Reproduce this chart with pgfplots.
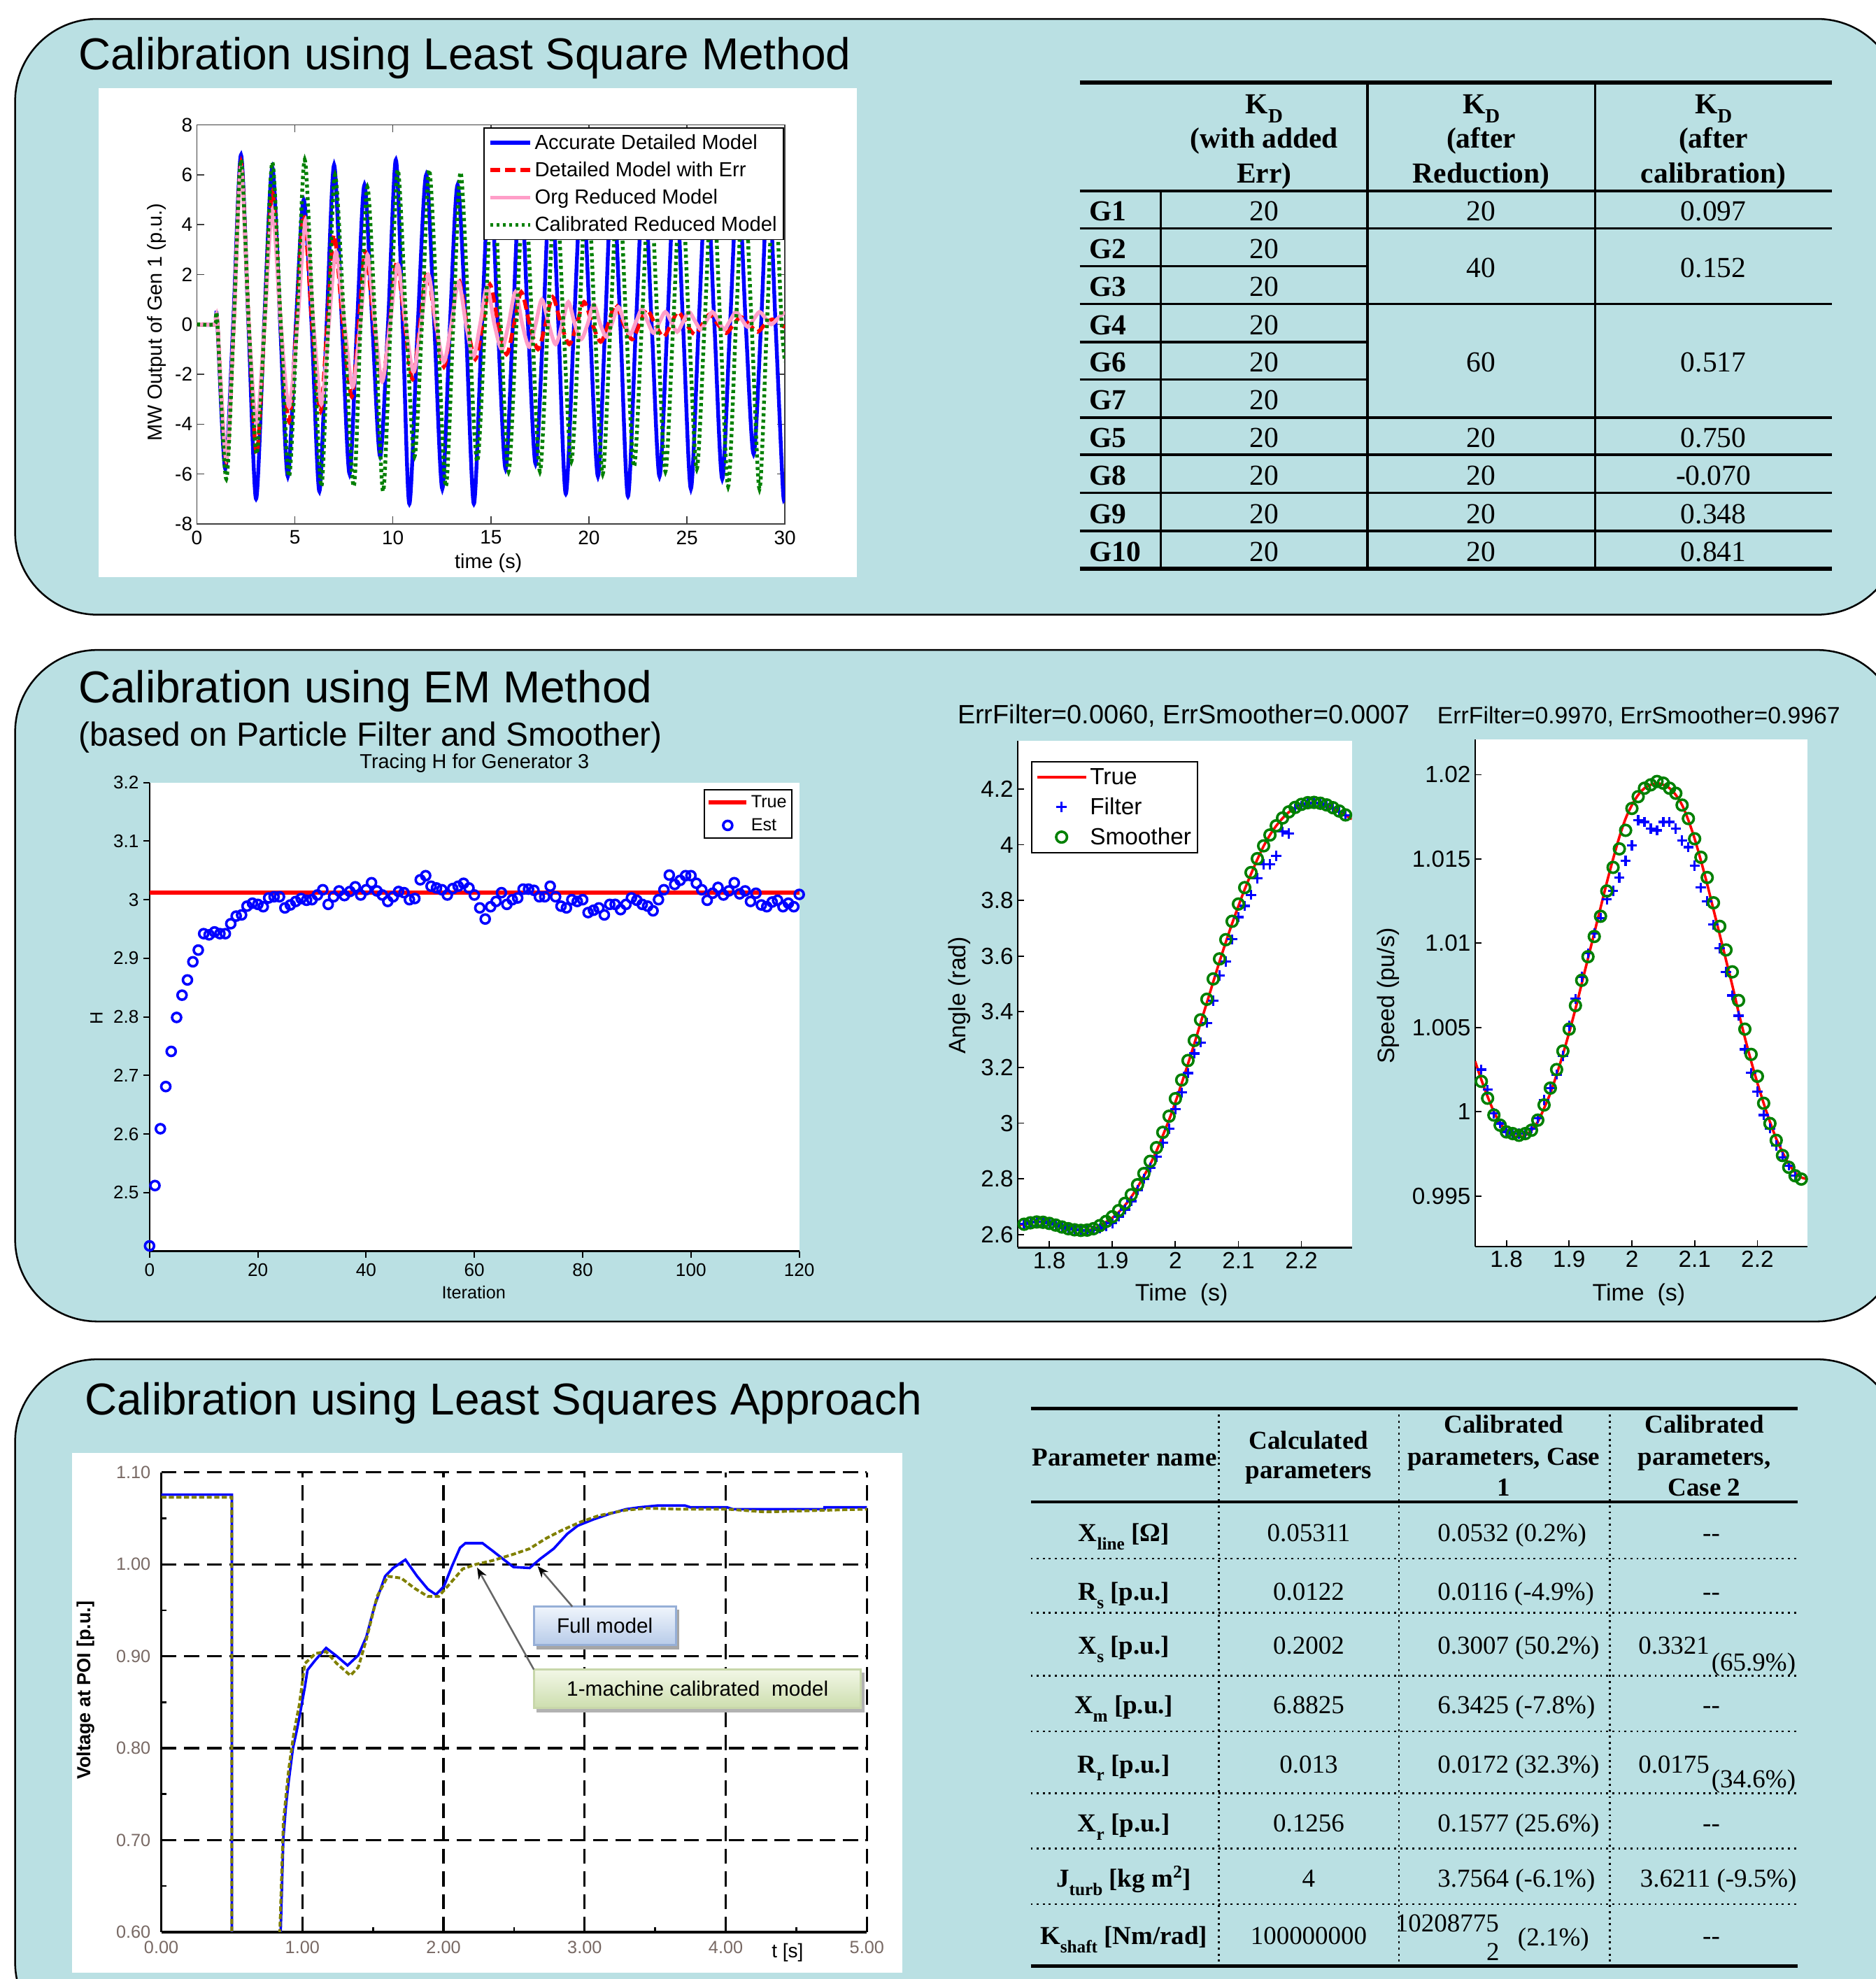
\documentclass[border=0pt]{standalone}
\usepackage{fontspec}
\setmainfont{Liberation Sans}
\newfontfamily\tnr{Liberation Serif}
\usepackage{pgfplots}
\pgfplotsset{compat=1.18}
\usetikzlibrary{arrows.meta}
\newcommand\fs[1]{\fontsize{#1}{#1}\selectfont}
\newcommand\subs[2]{\raisebox{-0.32em}{\fontsize{#1}{#1}\selectfont #2}}
\definecolor{panelc}{RGB}{186,224,227}
\definecolor{mgreen}{RGB}{0,128,0}
\definecolor{mpink}{RGB}{255,158,200}
\definecolor{olivec}{RGB}{128,128,0}
\definecolor{ticklab}{RGB}{120,105,100}
\definecolor{fmtop}{RGB}{240,245,252}
\definecolor{fmbot}{RGB}{183,203,233}
\definecolor{fmdraw}{RGB}{150,175,215}
\definecolor{cmtop}{RGB}{242,247,230}
\definecolor{cmbot}{RGB}{205,222,175}
\definecolor{cmdraw}{RGB}{200,215,170}
\begin{document}
\begin{tikzpicture}
\path[use as bounding box] (0pt,0pt) rectangle (1486pt,-1568pt);
\begin{scope}[x=1pt,y=-1pt]
\fill[white] (0,0) rectangle (1486,1568);
\draw[line width=1.4pt,fill=panelc,rounded corners=65pt] (12,15) rectangle (1505,487);
\draw[line width=1.4pt,fill=panelc,rounded corners=65pt] (12,515) rectangle (1505,1047);
\draw[line width=1.4pt,fill=panelc,rounded corners=65pt] (12,1077) rectangle (1505,1620);
\node[anchor=base west,inner sep=0pt,font=\fs{35.4}] at (62,55) {Calibration using Least Square Method};
\node[anchor=base west,inner sep=0pt,font=\fs{35.4}] at (62,557) {Calibration using EM Method};
\node[anchor=base west,inner sep=0pt,font=\fs{26.5}] at (62,591) {(based on Particle Filter and Smoother)};
\node[anchor=base west,inner sep=0pt,font=\fs{35.4}] at (67,1121) {Calibration using Least Squares Approach};
\fill[white] (78,70) rectangle (679,457);
\fill[white] (57,1151) rectangle (715,1563);
\node[anchor=base,inner sep=0pt,font=\fs{16}] at (376,609) {Tracing H for Generator 3};
\node[anchor=base,inner sep=0pt,font=\fs{21}] at (938,573.5) {ErrFilter=0.0060, ErrSmoother=0.0007};
\node[anchor=base,inner sep=0pt,font=\fs{18.7}] at (1298.5,573.3) {ErrFilter=0.9970, ErrSmoother=0.9967};
% ---------- table 1
\begin{scope}[font={\tnr\fs{23}}]
\draw[line width=3pt] (855.5,65.5) -- (1451.6,65.5);
\draw[line width=2pt] (855.5,151.3) -- (1451.6,151.3);
\foreach \yy in {180.9,240.9,330.8,360.4,390.5,420.6} \draw[line width=2pt] (855.5,\yy) -- (1451.6,\yy);
\foreach \yy in {211.0,271.0,300.6} \draw[line width=2pt] (855.5,\yy) -- (1083.6,\yy);
\draw[line width=3pt] (855.5,450.5) -- (1451.6,450.5);
\draw[line width=2pt] (919.8,151.3) -- (919.8,450.5);
\draw[line width=2pt] (1083.6,65.5) -- (1083.6,450.5);
\draw[line width=2pt] (1263.9,65.5) -- (1263.9,450.5);
\node[anchor=base,inner sep=0pt] at (1001.8,89.8) {\bfseries K\subs{16}{D}};
\node[anchor=base,inner sep=0pt] at (1173.7,89.8) {\bfseries K\subs{16}{D}};
\node[anchor=base,inner sep=0pt] at (1357.7,89.8) {\bfseries K\subs{16}{D}};
\node[anchor=base,inner sep=0pt] at (1001.8,117.4) {\bfseries (with added};
\node[anchor=base,inner sep=0pt] at (1173.7,117.4) {\bfseries (after};
\node[anchor=base,inner sep=0pt] at (1357.7,117.4) {\bfseries (after};
\node[anchor=base,inner sep=0pt] at (1001.8,145) {\bfseries Err)};
\node[anchor=base,inner sep=0pt] at (1173.7,145) {\bfseries Reduction)};
\node[anchor=base,inner sep=0pt] at (1357.7,145) {\bfseries calibration)};
\foreach \g/\yy in {G1/175,G2/205,G3/235,G4/265,G6/294.8,G7/324.7,G5/354.6,G8/384.5,G9/414.6,G10/444.6}{
  \node[anchor=base west,inner sep=0pt] at (863,\yy) {\bfseries \g};
  \node[anchor=base,inner sep=0pt] at (1001.8,\yy) {20};
}
\foreach \v/\yy in {20/175,40/220,60/294.8,20/354.6,20/384.5,20/414.6,20/444.6}
  \node[anchor=base,inner sep=0pt] at (1173.7,\yy) {\v};
\foreach \v/\yy in {0.097/175,0.152/220,0.517/294.8,0.750/354.6,-0.070/384.5,0.348/414.6,0.841/444.6}
  \node[anchor=base,inner sep=0pt] at (1357.7,\yy) {\v};
\end{scope}
% ---------- table 2
\begin{scope}[font={\tnr\fs{20.5}}]
\draw[line width=2.5pt] (816.7,1115.9) -- (1424.7,1115.9);
\draw[line width=2.5pt] (816.7,1190) -- (1424.7,1190);
\draw[line width=2.5pt] (816.7,1557.8) -- (1424.7,1557.8);
\foreach \yy in {1234.9,1277.9,1327.8,1371.8,1420.6,1464.5,1508.7}
  \draw[line width=1.6pt,dash pattern=on 1.6pt off 3.2pt] (816.7,\yy) -- (1424.7,\yy);
\foreach \xx in {966,1108.5,1275.4}
  \draw[line width=1.6pt,dash pattern=on 1.6pt off 3.2pt] (\xx,1115.9) -- (\xx,1557.8);
\node[anchor=base,inner sep=0pt] at (891,1161.3) {\bfseries Parameter name};
\node[anchor=base,inner sep=0pt] at (1037,1148.1) {\bfseries Calculated};
\node[anchor=base,inner sep=0pt] at (1037,1171.5) {\bfseries parameters};
\node[anchor=base,inner sep=0pt] at (1191.5,1135.4) {\bfseries Calibrated};
\node[anchor=base,inner sep=0pt] at (1191.5,1160.7) {\bfseries parameters, Case};
\node[anchor=base,inner sep=0pt] at (1191.5,1185.3) {\bfseries 1};
\node[anchor=base,inner sep=0pt] at (1350.5,1135.4) {\bfseries Calibrated};
\node[anchor=base,inner sep=0pt] at (1350.5,1160.7) {\bfseries parameters,};
\node[anchor=base,inner sep=0pt] at (1350.5,1185.3) {\bfseries Case 2};
\node[anchor=base,inner sep=0pt] at (890.5,1221.3) {\bfseries X\subs{14}{line} [Ω]};
\node[anchor=base,inner sep=0pt] at (890.5,1268) {\bfseries R\subs{14}{s} [p.u.]};
\node[anchor=base,inner sep=0pt] at (890.5,1310.7) {\bfseries X\subs{14}{s} [p.u.]};
\node[anchor=base,inner sep=0pt] at (890.5,1357.6) {\bfseries X\subs{14}{m} [p.u.]};
\node[anchor=base,inner sep=0pt] at (890.5,1404.5) {\bfseries R\subs{14}{r} [p.u.]};
\node[anchor=base,inner sep=0pt] at (890.5,1451.4) {\bfseries X\subs{14}{r} [p.u.]};
\node[anchor=base,inner sep=0pt] at (890.5,1495.3) {\bfseries J\subs{14}{turb} [kg m\textsuperscript{2}]};
\node[anchor=base,inner sep=0pt] at (890.5,1540.7) {\bfseries K\subs{14}{shaft} [Nm/rad]};
\foreach \v/\yy in {0.05311/1221.3,0.0122/1268,0.2002/1310.7,6.8825/1357.6,0.013/1404.5,0.1256/1451.4,4/1495.3,100000000/1540.7}
  \node[anchor=base,inner sep=0pt] at (1037,\yy) {\v};
\node[anchor=base west,inner sep=0pt] at (1139,1221.3) {0.0532 (0.2\%)};
\node[anchor=base west,inner sep=0pt] at (1139,1268) {0.0116 (-4.9\%)};
\node[anchor=base west,inner sep=0pt] at (1139,1310.7) {0.3007 (50.2\%)};
\node[anchor=base west,inner sep=0pt] at (1139,1357.6) {6.3425 (-7.8\%)};
\node[anchor=base west,inner sep=0pt] at (1139,1404.5) {0.0172 (32.3\%)};
\node[anchor=base west,inner sep=0pt] at (1139,1451.4) {0.1577 (25.6\%)};
\node[anchor=base west,inner sep=0pt] at (1139,1495.3) {3.7564 (-6.1\%)};
\node[anchor=base west,inner sep=0pt] at (1105.5,1530.5) {10208775};
\node[anchor=base,inner sep=0pt] at (1183,1553.4) {2};
\node[anchor=base west,inner sep=0pt] at (1202.5,1541.9) {(2.1\%)};
\foreach \yy in {1221.3,1268,1357.6,1451.4,1540.7}
  \node[anchor=base,inner sep=0pt] at (1356,\yy) {-{}-};
\node[anchor=base west,inner sep=0pt] at (1298,1310.7) {0.3321};
\node[anchor=base west,inner sep=0pt] at (1356,1323.9) {(65.9\%)};
\node[anchor=base west,inner sep=0pt] at (1298,1404.5) {0.0175};
\node[anchor=base west,inner sep=0pt] at (1356,1416.2) {(34.6\%)};
\node[anchor=base west,inner sep=0pt] at (1299.5,1495.3) {3.6211 (-9.5\%)};
\end{scope}
\end{scope}

% ================= axis 1: MW output
\begin{axis}[at={(156pt,-415pt)},anchor=south west,scale only axis,
  width=466pt,height=316pt,xmin=0,xmax=30,ymin=-8,ymax=8,
  xtick={0,5,10,15,20,25,30},xticklabels={0,5,10,15,20,25,30},
  ytick={-8,-6,-4,-2,0,2,4,6,8},yticklabels={-8,-6,-4,-2,0,2,4,6,8},
  tick align=inside,major tick length=6pt,
  tick style={black!75,line width=0.8pt},
  axis line style={black!75,line width=0.9pt},
  ticklabel style={font=\fs{15.5}},
  xticklabel style={yshift=-2pt},
  xlabel={time (s)},ylabel={MW Output of Gen 1 (p.u.)},
  xlabel style={font=\fs{16},at={(0.4957,-0.098)},anchor=center},
  ylabel style={font=\fs{16},at={(-0.0687,0.505)},anchor=center},
  legend style={at={(0.998,0.994)},anchor=north east,font=\fs{16.2},draw=black,line width=1pt,fill=white,inner xsep=3pt,inner ysep=3pt,row sep=4.5pt},
  legend cell align=left,
  legend image code/.code={\draw[#1] (0pt,0pt) -- (32pt,0pt);},
]
\addplot[blue,line width=3pt,smooth] coordinates {(0,0) (0.9,0) (0.97,0.3) (1.05,0) (1.45,-5.8) (1.85,0) (2.25,6.8) (2.63,0) (3.02,-7.0) (3.43,0) (3.85,6.3) (4.25,0) (4.64,-6.1) (5.05,0) (5.45,5.0) (5.85,0) (6.25,-6.7) (6.62,0) (7.0,6.4) (7.4,0) (7.79,-6.0) (8.17,0) (8.55,5.6) (8.95,0) (9.35,-5.3) (9.75,0) (10.15,6.6) (10.5,0) (10.84,-7.2) (11.27,0) (11.7,6.0) (12.11,0) (12.52,-6.6) (12.91,0) (13.3,5.6) (13.72,0) (14.13,-7.2) (14.54,0) (14.95,6.2) (15.35,0) (15.75,-5.8) (16.12,0) (16.5,6.0) (16.89,0) (17.28,-5.6) (17.67,0) (18.05,6.2) (18.44,0) (18.82,-6.8) (19.24,0) (19.65,6.0) (20.05,0) (20.46,-6.1) (20.83,0) (21.2,6.2) (21.6,0) (21.99,-6.9) (22.4,0) (22.8,6.0) (23.2,0) (23.6,-6.1) (24.0,0) (24.4,6.2) (24.8,0) (25.2,-6.6) (25.6,0) (26.0,6.0) (26.4,0) (26.8,-6.2) (27.2,0) (27.6,6.0) (28.0,0) (28.4,-5.2) (28.78,0) (29.15,6.0) (29.52,0) (29.9,-6.7) (30,-6.5)};
\addlegendentry{Accurate Detailed Model}
\addplot[red,line width=3pt,dash pattern=on 8pt off 4pt,smooth] coordinates {(0,0) (0.9,0) (0.97,0.2) (1.05,0) (1.5,-5.5) (1.88,0) (2.25,6.5) (2.65,0) (3.05,-5.2) (3.45,0) (3.85,5.3) (4.28,0) (4.7,-3.9) (5.08,0) (5.45,4.4) (5.88,0) (6.3,-3.5) (6.65,0) (7.0,3.6) (7.45,0) (7.9,-2.9) (8.25,0) (8.6,2.9) (9.03,0) (9.45,-2.3) (9.83,0) (10.2,2.5) (10.6,0) (11.0,-2.2) (11.38,0) (11.75,2.1) (12.18,0) (12.6,-1.7) (12.98,0) (13.35,1.8) (13.78,0) (14.2,-1.4) (14.58,0) (14.95,1.6) (15.38,0) (15.8,-1.2) (16.18,0) (16.55,1.3) (16.98,0) (17.4,-1.0) (17.78,0) (18.15,1.1) (18.58,0) (19.0,-0.8) (19.38,0) (19.75,0.9) (20.18,0) (20.6,-0.7) (20.98,0) (21.35,0.8) (21.78,0) (22.2,-0.6) (22.58,0) (22.95,0.6) (23.38,0) (23.8,-0.5) (24.18,0) (24.55,0.5) (24.98,0) (25.4,-0.4) (25.78,0) (26.15,0.4) (26.58,0) (27.0,-0.35) (27.38,0) (27.75,0.3) (28.18,0) (28.6,-0.3) (28.98,0) (29.35,0.2) (29.7,0) (30,-0.1)};
\addlegendentry{Detailed Model with Err}
\addplot[mpink,line width=3pt,smooth] coordinates {(0,0) (0.9,0) (0.97,0.2) (1.05,0) (1.5,-5.4) (1.88,0) (2.25,6.3) (2.65,0) (3.05,-4.0) (3.45,0) (3.85,4.6) (4.28,0) (4.7,-3.3) (5.13,0) (5.55,4.2) (5.95,0) (6.35,-3.2) (6.73,0) (7.1,2.9) (7.53,0) (7.95,-2.5) (8.33,0) (8.7,2.8) (9.08,0) (9.45,-2.3) (9.85,0) (10.25,2.4) (10.65,0) (11.05,-1.9) (11.43,0) (11.8,2.0) (12.2,0) (12.6,-1.5) (12.98,0) (13.35,1.7) (13.73,0) (14.1,-1.3) (14.45,0) (14.8,1.5) (15.18,0) (15.55,-1.0) (15.9,0) (16.25,1.3) (16.6,0) (16.95,-0.9) (17.28,0) (17.6,1.0) (17.95,0) (18.3,-0.8) (18.63,0) (18.95,0.9) (19.28,0) (19.6,-0.6) (19.93,0) (20.25,0.8) (20.58,0) (20.9,-0.5) (21.2,0.1) (21.5,0.7) (21.8,0.1) (22.1,-0.4) (22.4,0.1) (22.7,0.6) (23.0,0.1) (23.3,-0.35) (23.6,0.1) (23.9,0.5) (24.2,0.1) (24.5,-0.3) (24.8,0.1) (25.1,0.5) (25.4,0.15) (25.7,-0.2) (26.0,0.15) (26.3,0.5) (26.6,0.15) (26.9,-0.2) (27.2,0.15) (27.5,0.5) (27.8,0.2) (28.1,-0.1) (28.4,0.2) (28.7,0.5) (29.0,0.25) (29.3,0.0) (29.65,0.25) (30,0.5)};
\addlegendentry{Org Reduced Model}
\addplot[mgreen,line width=3pt,dash pattern=on 2.5pt off 2.5pt,smooth] coordinates {(0,0) (0.9,0) (0.97,0.3) (1.05,0) (1.5,-6.2) (1.88,0) (2.25,6.6) (2.65,0) (3.05,-5.2) (3.45,0) (3.85,6.5) (4.28,0) (4.7,-6.1) (5.1,0) (5.5,6.6) (5.93,0) (6.35,-6.5) (6.7,0) (7.05,6.0) (7.52,0) (8.0,-6.5) (8.35,0) (8.7,5.5) (9.1,0) (9.5,-6.7) (9.88,0) (10.25,6.2) (10.68,0) (11.1,-5.3) (11.48,0) (11.85,6.2) (12.28,0) (12.7,-6.5) (13.08,0) (13.45,6.1) (13.88,0) (14.3,-5.5) (14.7,0) (15.1,6.0) (15.5,0) (15.9,-5.9) (16.3,0) (16.7,6.0) (17.1,0) (17.5,-5.9) (17.9,0) (18.3,6.0) (18.7,0) (19.1,-5.5) (19.5,0) (19.9,6.0) (20.3,0) (20.7,-6.0) (21.1,0) (21.5,6.0) (21.9,0) (22.3,-5.7) (22.7,0) (23.1,6.0) (23.5,0) (23.9,-5.9) (24.3,0) (24.7,6.0) (25.1,0) (25.5,-5.8) (25.9,0) (26.3,6.0) (26.7,0) (27.1,-6.5) (27.5,0) (27.9,6.0) (28.3,0) (28.7,-6.6) (29.08,0) (29.45,6.0) (29.83,0) (30,-1.5)};
\addlegendentry{Calibrated Reduced Model}
\end{axis}

% ================= axis 2: Tracing H
\begin{axis}[at={(118.5pt,-991.3pt)},anchor=south west,scale only axis,
  width=514.8pt,height=371.3pt,xmin=0,xmax=120,ymin=2.4,ymax=3.2,clip=false,
  xtick={0,20,40,60,80,100,120},xticklabels={0,20,40,60,80,100,120},
  ytick={2.5,2.6,2.7,2.8,2.9,3,3.1,3.2},yticklabels={2.5,2.6,2.7,2.8,2.9,3,3.1,3.2},
  axis x line*=bottom,axis y line*=left,tick align=outside,major tick length=5pt,
  axis line style={line width=1.3pt},tick style={black,line width=1.2pt},
  axis background/.style={fill=white},
  ticklabel style={font=\fs{14.5}},
  xticklabel style={yshift=-1pt},
  xlabel={Iteration},ylabel={H},
  xlabel style={font=\fs{14},at={(0.499,-0.088)},anchor=center},
  ylabel style={font=\fs{14},at={(-0.0816,0.498)},anchor=center},
  legend style={at={(0.990,0.9865)},anchor=north east,font=\fs{14},draw=black,line width=1.5pt,fill=white,inner xsep=2pt,inner ysep=2.5pt,row sep=3pt},
  legend cell align=left,
  legend image code/.code={\draw[mark repeat=2,mark phase=2,#1] plot coordinates {(0pt,0pt) (15pt,0pt) (30pt,0pt)};},
]
\addplot[red,line width=3pt] coordinates {(0,3.012) (120,3.012)};
\addlegendentry{True}
\addplot[only marks,mark=o,blue,mark size=3.6pt,mark options={line width=2pt}] coordinates {(0,2.409)(1,2.512)(2,2.609)(3,2.681)(4,2.741)(5,2.799)(6,2.837)(7,2.863)(8,2.894)(9,2.914)(10,2.942)(11,2.940)(12,2.945)(13,2.942)(14,2.942)(15,2.959)(16,2.972)(17,2.974)(18,2.989)(19,2.994)(20,2.992)(21,2.988)(22,3.003)(23,3.005)(24,3.005)(25,2.986)(26,2.991)(27,2.997)(28,3.002)(29,2.999)(30,3.000)(31,3.008)(32,3.017)(33,2.992)(34,3.005)(35,3.015)(36,3.007)(37,3.014)(38,3.022)(39,3.008)(40,3.017)(41,3.029)(42,3.015)(43,3.008)(44,2.997)(45,3.005)(46,3.014)(47,3.012)(48,3.000)(49,3.002)(50,3.034)(51,3.041)(52,3.023)(53,3.020)(54,3.017)(55,3.008)(56,3.019)(57,3.023)(58,3.028)(59,3.020)(60,3.008)(61,2.986)(62,2.967)(63,2.988)(64,2.997)(65,3.012)(66,2.992)(67,3.000)(68,3.003)(69,3.018)(70,3.018)(71,3.016)(72,3.005)(73,3.005)(74,3.023)(75,3.005)(76,2.989)(77,2.986)(78,3.000)(79,2.997)(80,3.000)(81,2.978)(82,2.982)(83,2.986)(84,2.974)(85,2.992)(86,2.992)(87,2.983)(88,2.992)(89,3.003)(90,2.999)(91,2.992)(92,2.989)(93,2.981)(94,3.000)(95,3.017)(96,3.042)(97,3.026)(98,3.033)(99,3.041)(100,3.041)(101,3.028)(102,3.017)(103,2.999)(104,3.011)(105,3.021)(106,3.008)(107,3.015)(108,3.029)(109,3.010)(110,3.015)(111,2.997)(112,3.011)(113,2.991)(114,2.988)(115,2.996)(116,2.999)(117,2.988)(118,2.994)(119,2.988)(120,3.009)};
\addlegendentry{Est}
\end{axis}

% ================= axis 3: Angle
\begin{axis}[at={(806.5pt,-988.5pt)},anchor=south west,scale only axis,
  width=264.7pt,height=401.5pt,xmin=1.75,xmax=2.28,ymin=2.553,ymax=4.373,
  xtick={1.8,1.9,2,2.1,2.2},xticklabels={1.8,1.9,2,2.1,2.2},
  ytick={2.6,2.8,3,3.2,3.4,3.6,3.8,4,4.2},yticklabels={2.6,2.8,3,3.2,3.4,3.6,3.8,4,4.2},
  axis x line*=bottom,axis y line*=left,tick align=inside,major tick length=5pt,
  axis line style={line width=1.2pt},tick style={black,line width=1pt},
  axis background/.style={fill=white},
  ticklabel style={font=\fs{18.5}},
  xlabel={Time\ \ (s)},ylabel={Angle (rad)},
  xlabel style={font=\fs{18.8},at={(0.490,-0.0934)},anchor=center},
  ylabel style={font=\fs{18.8},at={(-0.174,0.498)},anchor=center},
  legend style={at={(0.04,0.96)},anchor=north west,font=\fs{18.5},draw=black,line width=1.2pt,fill=white,inner xsep=3pt,inner ysep=3pt,row sep=5pt},
  legend cell align=left,
  legend image code/.code={\draw[mark repeat=2,mark phase=2,#1] plot coordinates {(0pt,0pt) (19.5pt,0pt) (39pt,0pt)};},
]
\addplot[red,line width=2pt,smooth] coordinates {(1.75,2.632)(1.76,2.638)(1.77,2.643)(1.78,2.646)(1.79,2.645)(1.80,2.641)(1.81,2.635)(1.82,2.628)(1.83,2.622)(1.84,2.618)(1.85,2.615)(1.86,2.615)(1.87,2.620)(1.88,2.630)(1.89,2.645)(1.90,2.660)(1.91,2.680)(1.92,2.705)(1.93,2.735)(1.94,2.770)(1.95,2.810)(1.96,2.852)(1.97,2.900)(1.98,2.955)(1.99,3.012)(2.00,3.075)(2.01,3.143)(2.02,3.213)(2.03,3.285)(2.04,3.360)(2.05,3.433)(2.06,3.507)(2.07,3.580)(2.08,3.650)(2.09,3.717)(2.10,3.780)(2.11,3.840)(2.12,3.895)(2.13,3.947)(2.14,3.995)(2.15,4.035)(2.16,4.068)(2.17,4.095)(2.18,4.117)(2.19,4.133)(2.20,4.144)(2.21,4.150)(2.22,4.151)(2.23,4.148)(2.24,4.142)(2.25,4.132)(2.26,4.120)(2.27,4.106)(2.28,4.092)};
\addlegendentry{True}
\addplot[only marks,mark=+,blue,mark size=4pt,mark options={line width=1.8pt}] coordinates {(1.76,2.638)(1.77,2.643)(1.78,2.646)(1.79,2.645)(1.80,2.641)(1.81,2.635)(1.82,2.628)(1.83,2.622)(1.84,2.618)(1.85,2.615)(1.86,2.613)(1.87,2.615)(1.88,2.622)(1.89,2.630)(1.90,2.640)(1.91,2.665)(1.92,2.690)(1.93,2.720)(1.94,2.760)(1.95,2.800)(1.96,2.840)(1.97,2.880)(1.98,2.930)(1.99,2.980)(2.00,3.050)(2.01,3.110)(2.02,3.180)(2.03,3.250)(2.04,3.290)(2.05,3.360)(2.06,3.440)(2.07,3.530)(2.08,3.580)(2.09,3.660)(2.10,3.740)(2.11,3.780)(2.12,3.820)(2.13,3.880)(2.14,3.930)(2.15,3.930)(2.16,3.960)(2.17,4.047)(2.18,4.040)(2.19,4.130)(2.20,4.140)(2.21,4.148)(2.22,4.150)(2.23,4.148)(2.24,4.140)(2.25,4.130)(2.26,4.118)(2.27,4.105)};
\addlegendentry{Filter}
\addplot[only marks,mark=o,mgreen,mark size=4.3pt,mark options={line width=2pt}] coordinates {(1.76,2.637)(1.77,2.642)(1.78,2.645)(1.79,2.644)(1.80,2.640)(1.81,2.634)(1.82,2.627)(1.83,2.621)(1.84,2.617)(1.85,2.615)(1.86,2.616)(1.87,2.621)(1.88,2.632)(1.89,2.647)(1.90,2.664)(1.91,2.686)(1.92,2.712)(1.93,2.743)(1.94,2.779)(1.95,2.819)(1.96,2.863)(1.97,2.912)(1.98,2.967)(1.99,3.025)(2.00,3.088)(2.01,3.155)(2.02,3.225)(2.03,3.297)(2.04,3.371)(2.05,3.445)(2.06,3.518)(2.07,3.590)(2.08,3.659)(2.09,3.725)(2.10,3.787)(2.11,3.846)(2.12,3.900)(2.13,3.950)(2.14,3.996)(2.15,4.035)(2.16,4.068)(2.17,4.096)(2.18,4.118)(2.19,4.134)(2.20,4.145)(2.21,4.151)(2.22,4.152)(2.23,4.149)(2.24,4.143)(2.25,4.133)(2.26,4.121)(2.27,4.107)};
\addlegendentry{Smoother}
\end{axis}

% ================= axis 4: Speed
\begin{axis}[at={(1168.8pt,-987.6pt)},anchor=south west,scale only axis,
  width=263.5pt,height=401.8pt,xmin=1.75,xmax=2.28,ymin=0.992,ymax=1.0221,
  xtick={1.8,1.9,2,2.1,2.2},xticklabels={1.8,1.9,2,2.1,2.2},
  ytick={0.995,1,1.005,1.01,1.015,1.02},yticklabels={0.995,1,1.005,1.01,1.015,1.02},
  axis x line*=bottom,axis y line*=left,tick align=inside,major tick length=5pt,
  axis line style={line width=1.2pt},tick style={black,line width=1pt},
  axis background/.style={fill=white},
  ticklabel style={font=\fs{18.5}},
  xlabel={Time\ \ (s)},ylabel={Speed (pu/s)},
  xlabel style={font=\fs{18.8},at={(0.4926,-0.0956)},anchor=center},
  ylabel style={font=\fs{18.8},at={(-0.261,0.494)},anchor=center},
]
\addplot[red,line width=2pt,smooth] coordinates {(1.75,1.0030)(1.76,1.0019)(1.77,1.0009)(1.78,1.0000)(1.79,0.9993)(1.80,0.9989)(1.81,0.9986)(1.82,0.9985)(1.83,0.9986)(1.84,0.9989)(1.85,0.9994)(1.86,1.0002)(1.87,1.0011)(1.88,1.0022)(1.89,1.0034)(1.90,1.0047)(1.91,1.0061)(1.92,1.0076)(1.93,1.0091)(1.94,1.0106)(1.95,1.0121)(1.96,1.0136)(1.97,1.0150)(1.98,1.0163)(1.99,1.0174)(2.00,1.0182)(2.01,1.0188)(2.02,1.0192)(2.03,1.0194)(2.04,1.0195)(2.05,1.0194)(2.06,1.0192)(2.07,1.0188)(2.08,1.0182)(2.09,1.0173)(2.10,1.0162)(2.11,1.0149)(2.12,1.0135)(2.13,1.0120)(2.14,1.0105)(2.15,1.0090)(2.16,1.0075)(2.17,1.0059)(2.18,1.0044)(2.19,1.0030)(2.20,1.0017)(2.21,1.0005)(2.22,0.9994)(2.23,0.9984)(2.24,0.9976)(2.25,0.9969)(2.26,0.9964)(2.27,0.9961)(2.28,0.9960)};
\addplot[only marks,mark=+,blue,mark size=4pt,mark options={line width=1.8pt}] coordinates {(1.76,1.0025)(1.77,1.0013)(1.78,0.9999)(1.79,0.9993)(1.80,0.9988)(1.81,0.9987)(1.82,0.9987)(1.83,0.9987)(1.84,0.9990)(1.85,0.9996)(1.86,1.0007)(1.87,1.0014)(1.88,1.0022)(1.89,1.0033)(1.90,1.0051)(1.91,1.0067)(1.92,1.0080)(1.93,1.0094)(1.94,1.0106)(1.95,1.0115)(1.96,1.0126)(1.97,1.0131)(1.98,1.0139)(1.99,1.0149)(2.00,1.0158)(2.01,1.0173)(2.02,1.0172)(2.03,1.0168)(2.04,1.0167)(2.05,1.0172)(2.06,1.0172)(2.07,1.0168)(2.08,1.0161)(2.09,1.0157)(2.10,1.0146)(2.11,1.0133)(2.12,1.0125)(2.13,1.0111)(2.14,1.0097)(2.15,1.0083)(2.16,1.0069)(2.17,1.0057)(2.18,1.0037)(2.19,1.0023)(2.20,1.0012)(2.21,0.9998)(2.22,0.9990)(2.23,0.9980)(2.24,0.9973)(2.25,0.9968)(2.26,0.9962)};
\addplot[only marks,mark=o,mgreen,mark size=4.3pt,mark options={line width=2pt}] coordinates {(1.76,1.0018)(1.77,1.0008)(1.78,0.9998)(1.79,0.9992)(1.80,0.9988)(1.81,0.9987)(1.82,0.9986)(1.83,0.9987)(1.84,0.9989)(1.85,0.9995)(1.86,1.0004)(1.87,1.0014)(1.88,1.0025)(1.89,1.0036)(1.90,1.0049)(1.91,1.0063)(1.92,1.0078)(1.93,1.0092)(1.94,1.0104)(1.95,1.0116)(1.96,1.0131)(1.97,1.0145)(1.98,1.0156)(1.99,1.0167)(2.00,1.0180)(2.01,1.0187)(2.02,1.0192)(2.03,1.0194)(2.04,1.0196)(2.05,1.0195)(2.06,1.0192)(2.07,1.0189)(2.08,1.0182)(2.09,1.0174)(2.10,1.0162)(2.11,1.0151)(2.12,1.0139)(2.13,1.0124)(2.14,1.0110)(2.15,1.0096)(2.16,1.0083)(2.17,1.0066)(2.18,1.0049)(2.19,1.0034)(2.20,1.0021)(2.21,1.0005)(2.22,0.9993)(2.23,0.9983)(2.24,0.9974)(2.25,0.9967)(2.26,0.9962)(2.27,0.9960)};
\end{axis}

% ================= axis 5: Voltage at POI
\begin{axis}[at={(127.8pt,-1530.7pt)},anchor=south west,scale only axis,
  width=559.1pt,height=364.1pt,xmin=0,xmax=5,ymin=0.6,ymax=1.1,
  xtick={0,1,2,3,4,5},xticklabels={0.00,1.00,2.00,3.00,4.00,5.00},
  ytick={0.6,0.7,0.8,0.9,1.0,1.1},yticklabels={0.60,0.70,0.80,0.90,1.00,1.10},
  minor xtick={0.5,1.5,2.5,3.5,4.5},minor ytick={0.65,0.75,0.85,0.95,1.05},
  axis x line*=bottom,axis y line*=left,
  tick align=inside,major tick length=0pt,minor tick length=4pt,
  minor tick style={black,line width=1.5pt},
  grid=major,major grid style={black,line width=1.8pt,dash pattern=on 12pt off 6pt},
  axis line style={line width=2pt},
  ticklabel style={font=\fs{14},text=ticklab},
  yticklabel style={xshift=-5pt},
  xticklabel style={yshift=-4pt},
  xlabel={t [s]},ylabel={Voltage at POI [p.u.]},
  xlabel style={font=\fs{15.5},at={(0.8875,-0.0448)},anchor=center},
  ylabel style={font=\bfseries\fs{15},at={(-0.1066,0.5257)},anchor=center},
]
\addplot[blue,line width=2pt] coordinates {(0,1.0758) (0.5,1.0758) (0.5,0.5) (0.845,0.5) (0.846,0.6) (0.865,0.702) (0.884,0.738) (0.903,0.764) (0.933,0.80) (0.96,0.819) (0.979,0.834) (1.017,0.866) (1.036,0.885) (1.093,0.896) (1.168,0.909) (1.244,0.90) (1.32,0.89) (1.396,0.901) (1.453,0.921) (1.51,0.954) (1.586,0.987) (1.643,0.996) (1.73,1.005) (1.813,0.987) (1.889,0.973) (1.946,0.967) (2.003,0.976) (2.06,0.998) (2.117,1.018) (2.155,1.023) (2.276,1.023) (2.345,1.015) (2.42,1.006) (2.496,0.997) (2.61,0.996) (2.686,1.006) (2.781,1.017) (2.876,1.033) (2.951,1.042) (3.065,1.049) (3.179,1.055) (3.293,1.06) (3.388,1.062) (3.52,1.064) (3.71,1.064) (3.75,1.062) (4.01,1.062) (4.05,1.06) (4.70,1.06) (4.70,1.062) (5.0,1.062)};
\addplot[olivec,line width=2.2pt,dash pattern=on 4pt off 2pt] coordinates {(0,1.073) (0.5,1.073) (0.5,0.5) (0.838,0.5) (0.84,0.6) (0.865,0.72) (0.903,0.777) (0.94,0.817) (0.979,0.848) (1.017,0.892) (1.093,0.903) (1.168,0.905) (1.244,0.892) (1.34,0.879) (1.396,0.888) (1.453,0.918) (1.529,0.965) (1.605,0.987) (1.70,0.985) (1.794,0.974) (1.889,0.965) (1.965,0.965) (2.04,0.978) (2.136,0.995) (2.23,1.0) (2.345,1.004) (2.496,1.011) (2.61,1.017) (2.724,1.028) (2.838,1.037) (2.97,1.046) (3.10,1.053) (3.293,1.059) (3.445,1.061) (3.67,1.06) (4.01,1.06) (4.28,1.057) (4.5,1.058) (5.0,1.06)};
\fill[black!35] (axis cs:2.66,0.951) rectangle (axis cs:3.67,0.9075);
\path[draw=fmdraw,line width=1.5pt,top color=fmtop,bottom color=fmbot] (axis cs:2.64,0.954) rectangle (axis cs:3.646,0.912);
\node[font=\fs{16.5}] at (axis cs:3.143,0.933) {Full model};
\fill[black!30] (axis cs:2.66,0.8825) rectangle (axis cs:4.985,0.839);
\path[draw=cmdraw,line width=1.5pt,top color=cmtop,bottom color=cmbot] (axis cs:2.64,0.8855) rectangle (axis cs:4.955,0.8438);
\node[font=\fs{16.5}] at (axis cs:3.8,0.8646) {1-machine calibrated\ \ model};
\draw[line width=1.4pt,black!60,-{Stealth[length=9pt,width=7pt,black]}] (axis cs:2.913,0.954) -- (axis cs:2.667,0.998);
\draw[line width=1.4pt,black!60,-{Stealth[length=9pt,width=7pt,black]}] (axis cs:2.64,0.8855) -- (axis cs:2.238,0.9964);
\end{axis}
\end{tikzpicture}
\end{document}
